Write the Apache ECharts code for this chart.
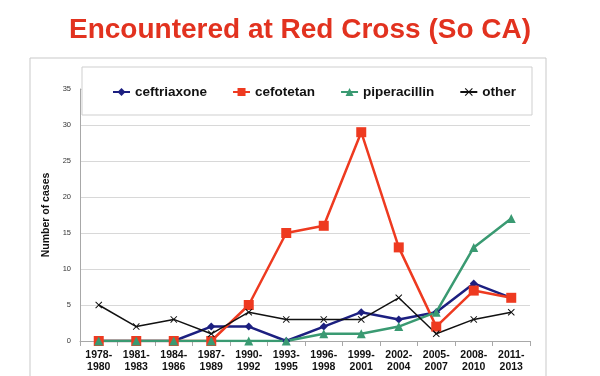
<!DOCTYPE html>
<html>
<head>
<meta charset="utf-8">
<script src="https://cdn.jsdelivr.net/npm/echarts@6/dist/echarts.min.js"></script>
<style>
  html, body { margin: 0; padding: 0; background: #fff; }
  #chart { width: 600px; height: 376px; }
</style>
</head>
<body>
<div id="chart"></div>
<script>
/* categories and series */
var PERIODS = ['1978-\n1980', '1981-\n1983', '1984-\n1986', '1987-\n1989', '1990-\n1992', '1993-\n1995',
               '1996-\n1998', '1999-\n2001', '2002-\n2004', '2005-\n2007', '2008-\n2010', '2011-\n2013'];
var CEFTRIAXONE = [0, 0, 0, 2, 2, 0, 2, 4, 3, 4, 8, 6];
var CEFOTETAN = [0, 0, 0, 0, 5, 15, 16, 29, 13, 2, 7, 6];
var PIPERACILLIN = [0, 0, 0, 0, 0, 0, 1, 1, 2, 4, 13, 17];
var OTHER = [5, 2, 3, 1, 4, 3, 3, 3, 6, 1, 3, 4];
var Y_TICKS = [0, 5, 10, 15, 20, 25, 30, 35];

var FONT = '"Liberation Sans", Arial, Helvetica, sans-serif';
var X_MARK = 'path://M0,1L1,0L5,4L9,0L10,1L6,5L10,9L9,10L5,6L1,10L0,9L4,5Z';

function lineSeries(name, data, color, symbol, size, width) {
    return {
        name: name,
        type: 'line',
        data: data,
        symbol: symbol,
        symbolSize: size,
        showSymbol: true,
        lineStyle: { color: color, width: width },
        itemStyle: { color: color },
        emphasis: { disabled: true },
        z: 5
    };
}

var chart = echarts.init(document.getElementById('chart'));

var option = {
    backgroundColor: '#ffffff',
    animation: false,
    title: {
        text: 'Encountered at Red Cross (So CA)',
        left: 'center',
        top: 11,
        textStyle: { fontFamily: FONT, fontSize: 28, fontWeight: 'bold', color: '#e2321f' }
    },
    graphic: [
        /* outer chart frame */
        { type: 'rect', z: 0, shape: { x: 30, y: 58, width: 516, height: 340 },
          style: { fill: 'none', stroke: '#c9c9c9', lineWidth: 1 } },
        /* legend frame sitting over the top gridline */
        { type: 'rect', z: 3, shape: { x: 82, y: 67, width: 450, height: 48 },
          style: { fill: '#ffffff', stroke: '#cfcfcf', lineWidth: 1 } }
    ],
    legend: {
        top: 80,
        left: 107,
        itemGap: 25,
        itemWidth: 17,
        itemHeight: 10,
        z: 6,
        textStyle: { fontFamily: FONT, fontSize: 13.5, fontWeight: 'bold', color: '#111' },
        data: ['ceftriaxone', 'cefotetan', 'piperacillin', 'other']
    },
    grid: { left: 80, right: 70, top: 89, bottom: 35, containLabel: false },
    xAxis: {
        type: 'category',
        data: PERIODS,
        boundaryGap: true,
        axisLine: { lineStyle: { color: '#a8a8a8' } },
        axisTick: { show: true, alignWithLabel: false, lineStyle: { color: '#a8a8a8' } },
        axisLabel: { fontFamily: FONT, fontSize: 10.5, fontWeight: 'bold', color: '#111',
                     lineHeight: 12, margin: 8, interval: 0 }
    },
    yAxis: {
        type: 'value',
        min: Y_TICKS[0],
        max: Y_TICKS[Y_TICKS.length - 1],
        interval: 5,
        name: 'Number of cases',
        nameLocation: 'middle',
        nameRotate: 90,
        nameGap: 26,
        nameTextStyle: { fontFamily: FONT, fontSize: 10.5, fontWeight: 'bold', color: '#111' },
        axisLine: { show: true, lineStyle: { color: '#a8a8a8' } },
        axisTick: { show: false },
        axisLabel: { fontFamily: FONT, fontSize: 7.5, color: '#333', margin: 9 },
        splitLine: { lineStyle: { color: '#d8d8d8' } }
    },
    series: [
        lineSeries('ceftriaxone', CEFTRIAXONE, '#1c1f80', 'diamond', 8, 2.5),
        lineSeries('cefotetan', CEFOTETAN, '#ee3a20', 'rect', 10, 2.5),
        lineSeries('piperacillin', PIPERACILLIN, '#3a9a72', 'triangle', 9, 2.5),
        lineSeries('other', OTHER, '#111111', X_MARK, 7, 1.5)
    ]
};

chart.setOption(option);
</script>
</body>
</html>
